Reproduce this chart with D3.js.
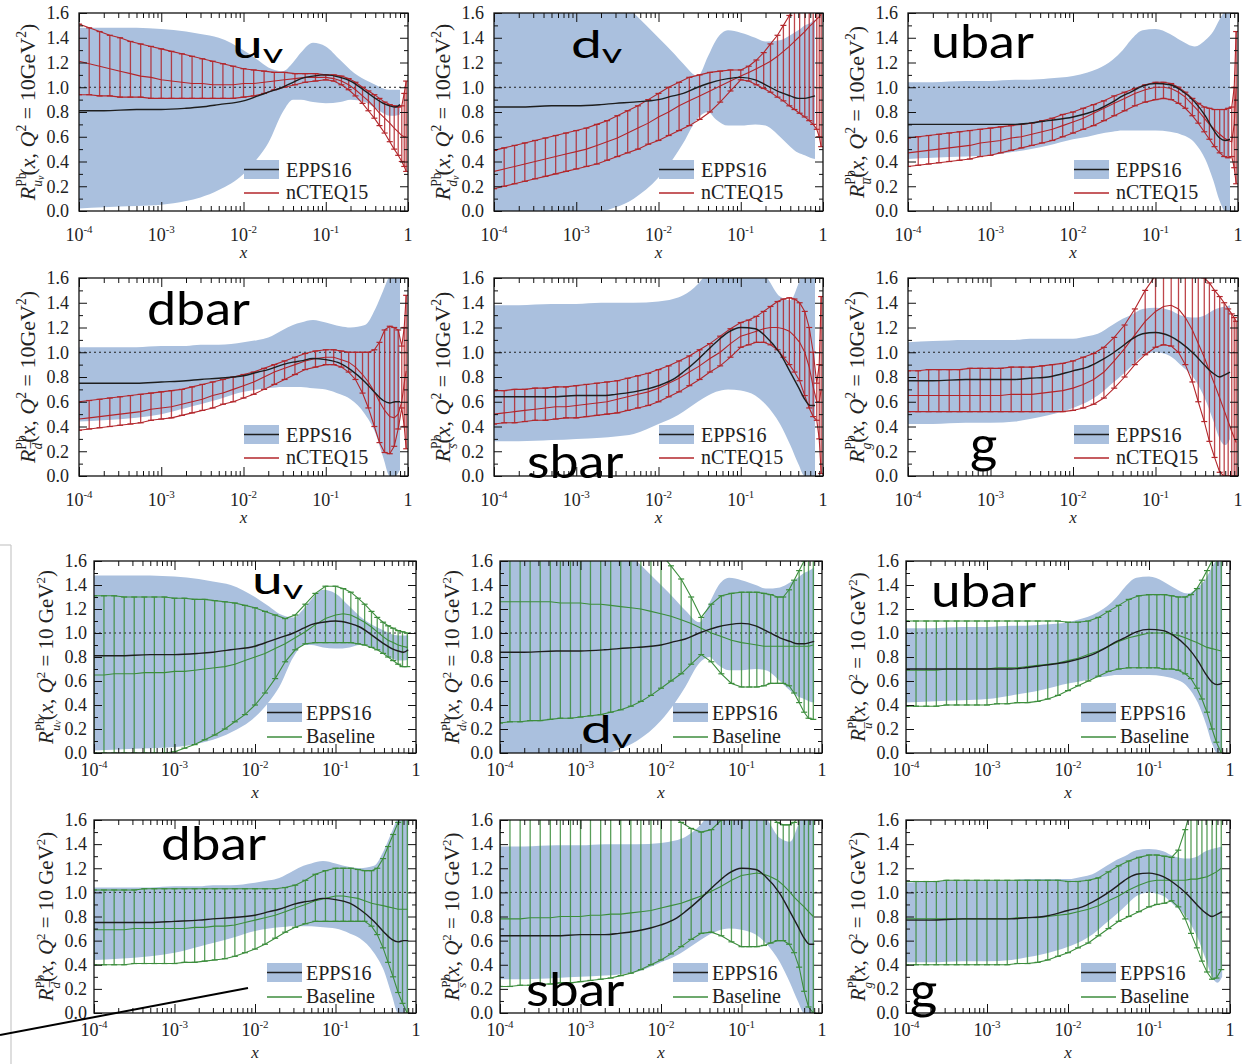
<!DOCTYPE html>
<html><head><meta charset="utf-8">
<script src="https://cdn.jsdelivr.net/npm/d3@7"></script>
<style>body{margin:0;background:#fff}svg{display:block}</style>
</head><body>
<svg id="c" width="1245" height="1064"></svg>
<script>
// ---------- x grids ----------
const xEPPS = [1e-4,2e-4,5e-4,1e-3,2e-3,3e-3,5e-3,0.01,0.015,0.02,0.03,0.04,0.05,0.07,0.1,0.15,0.2,0.3,0.4,0.5,0.6,0.7,0.8];
const xTop = [1e-4,1.33e-4,1.78e-4,2.37e-4,3.16e-4,4.22e-4,5.62e-4,7.5e-4,
  1e-3,1.33e-3,1.78e-3,2.37e-3,3.16e-3,4.22e-3,5.62e-3,7.5e-3,
  0.01,0.0133,0.0178,0.0237,0.0316,0.0422,0.0562,0.075,
  0.1,0.125,0.155,0.19,0.23,0.28,0.33,0.39,0.45,0.52,0.6,0.68,0.76,0.84,0.9,0.95];
const xBot = [1e-4,1.33e-4,1.78e-4,2.37e-4,3.16e-4,4.22e-4,5.62e-4,7.5e-4,
  1e-3,1.33e-3,1.78e-3,2.37e-3,3.16e-3,4.22e-3,5.62e-3,7.5e-3,
  0.01,0.0133,0.0178,0.0237,0.0316,0.0422,0.0562,0.075,
  0.1,0.125,0.155,0.19,0.23,0.28,0.33,0.39,0.45,0.52,0.6,0.68,0.78];
const yMajorTicks = [0,0.2,0.4,0.6,0.8,1.0,1.2,1.4,1.6];
const xMajorTicks = [1e-4,1e-3,1e-2,1e-1,1];
const xTickExp = ["-4","-3","-2","-1",""];

// ---------- EPPS16 (band + central) ----------
const uvEppsUp = [1.48,1.48,1.48,1.47,1.45,1.43,1.4,1.3,1.22,1.16,1.13,1.2,1.28,1.36,1.33,1.22,1.14,1.06,1.02,0.99,0.98,0.98,0.98];
const uvEppsLo = [0.02,0.03,0.04,0.05,0.08,0.11,0.17,0.3,0.43,0.55,0.8,0.9,0.9,0.88,0.87,0.88,0.9,0.88,0.83,0.79,0.77,0.77,0.78];
const uvEppsC  = [0.81,0.81,0.82,0.82,0.83,0.84,0.86,0.89,0.93,0.96,1.0,1.04,1.07,1.09,1.1,1.08,1.05,0.97,0.91,0.87,0.85,0.84,0.86];
const dvEppsUp = [2,2,2,2,1.9,1.75,1.6,1.4,1.28,1.19,1.09,1.25,1.38,1.46,1.44,1.4,1.37,1.38,1.42,1.46,1.5,1.52,1.55];
const dvEppsLo = [0,0,0,0,0,0.03,0.1,0.27,0.42,0.55,0.75,0.8,0.74,0.69,0.69,0.7,0.69,0.6,0.52,0.47,0.45,0.43,0.42];
const dvEppsC  = [0.84,0.84,0.85,0.85,0.86,0.87,0.88,0.9,0.93,0.95,1.0,1.03,1.05,1.07,1.08,1.06,1.02,0.96,0.93,0.91,0.91,0.92,0.93];
const ubEppsUp = [1.04,1.04,1.05,1.05,1.06,1.06,1.07,1.09,1.12,1.15,1.22,1.3,1.38,1.46,1.47,1.43,1.38,1.33,1.38,1.45,1.55,1.62,1.65];
const ubEppsLo = [0.42,0.43,0.44,0.45,0.48,0.5,0.53,0.58,0.6,0.62,0.64,0.65,0.65,0.65,0.65,0.64,0.62,0.55,0.42,0.25,0.08,0,0];
const ubEppsC  = [0.7,0.7,0.7,0.7,0.7,0.71,0.73,0.76,0.79,0.82,0.88,0.93,0.96,1.01,1.03,1.02,0.98,0.88,0.77,0.66,0.59,0.57,0.58];
const dbEppsUp = [1.04,1.04,1.04,1.05,1.05,1.06,1.06,1.08,1.1,1.12,1.18,1.22,1.24,1.26,1.24,1.21,1.2,1.22,1.35,1.5,1.62,1.66,1.66];
const dbEppsLo = [0.44,0.45,0.47,0.5,0.55,0.58,0.62,0.68,0.7,0.71,0.72,0.72,0.72,0.71,0.7,0.66,0.62,0.5,0.35,0.15,0,0,0.05];
const dbEppsC  = [0.75,0.75,0.75,0.76,0.77,0.78,0.79,0.81,0.84,0.86,0.9,0.92,0.93,0.95,0.94,0.91,0.86,0.76,0.67,0.61,0.59,0.6,0.6];
const sbEppsUp = [1.38,1.38,1.39,1.39,1.4,1.4,1.4,1.41,1.43,1.46,1.55,1.65,1.7,1.75,1.75,1.7,1.62,1.45,1.42,1.55,1.7,1.75,1.75];
const sbEppsLo = [0.28,0.28,0.29,0.3,0.31,0.32,0.34,0.42,0.47,0.52,0.6,0.65,0.68,0.7,0.69,0.65,0.58,0.42,0.25,0.1,0,0,0];
const sbEppsC  = [0.64,0.64,0.64,0.65,0.65,0.66,0.68,0.73,0.78,0.84,0.94,1.02,1.08,1.16,1.2,1.19,1.13,0.99,0.84,0.72,0.62,0.57,0.57];
const gEppsUp  = [1.08,1.09,1.1,1.1,1.1,1.11,1.11,1.11,1.13,1.15,1.22,1.27,1.3,1.35,1.36,1.34,1.3,1.28,1.3,1.34,1.36,1.37,1.38];
const gEppsLo  = [0.42,0.42,0.43,0.43,0.44,0.46,0.49,0.55,0.6,0.65,0.75,0.82,0.88,0.97,1.0,0.97,0.9,0.78,0.62,0.45,0.3,0.25,0.3];
const gEppsC   = [0.77,0.77,0.78,0.78,0.78,0.79,0.8,0.85,0.88,0.92,0.99,1.05,1.1,1.15,1.16,1.13,1.08,0.98,0.89,0.83,0.8,0.82,0.84];

// ---------- nCTEQ15 (upper, central, lower) ----------
const uvNcUp = [1.51,1.48,1.45,1.42,1.40,1.37,1.35,1.33,1.31,1.29,1.27,1.25,1.23,1.21,1.19,1.17,1.15,1.14,1.13,1.12,1.12,1.11,1.11,1.11,1.1,
  1.1,1.09,1.07,1.04,1.0,0.97,0.94,0.91,0.88,0.86,0.85,0.84,0.85,0.95,1.05];
const uvNcC = [1.21,1.19,1.17,1.15,1.13,1.11,1.09,1.08,1.06,1.05,1.04,1.03,1.03,1.02,1.02,1.02,1.03,1.03,1.04,1.05,1.06,1.07,1.08,1.08,1.08,
  1.07,1.05,1.02,0.98,0.93,0.89,0.84,0.79,0.75,0.71,0.67,0.64,0.61,0.6,0.6];
const uvNcLo = [0.94,0.94,0.93,0.93,0.92,0.92,0.92,0.91,0.91,0.91,0.91,0.91,0.91,0.91,0.91,0.91,0.92,0.93,0.95,0.98,1.0,1.02,1.04,1.05,1.06,
  1.05,1.02,0.98,0.93,0.87,0.81,0.75,0.69,0.63,0.56,0.5,0.45,0.4,0.36,0.32];
const dvNcUp = [0.49,0.51,0.53,0.55,0.57,0.59,0.61,0.63,0.65,0.67,0.7,0.73,0.77,0.81,0.85,0.9,0.95,1.0,1.04,1.08,1.1,1.12,1.13,1.14,1.14,
  1.17,1.22,1.28,1.35,1.42,1.5,1.58,1.66,1.74,1.82,1.9,1.98,2.05,2.1,2.15];
const dvNcC = [0.32,0.34,0.36,0.38,0.4,0.42,0.44,0.46,0.48,0.5,0.53,0.56,0.59,0.63,0.67,0.71,0.76,0.8,0.85,0.89,0.93,0.97,1.01,1.05,1.09,
  1.12,1.15,1.18,1.21,1.25,1.29,1.33,1.37,1.41,1.45,1.49,1.52,1.55,1.57,1.59];
const dvNcLo = [0.18,0.2,0.22,0.24,0.26,0.28,0.3,0.32,0.34,0.36,0.38,0.41,0.44,0.47,0.5,0.54,0.57,0.61,0.65,0.69,0.74,0.8,0.88,0.97,1.06,
  1.05,1.02,0.99,0.96,0.92,0.89,0.85,0.82,0.79,0.76,0.73,0.7,0.66,0.6,0.52];
const ubNcUp = [0.59,0.6,0.61,0.62,0.63,0.64,0.65,0.66,0.67,0.68,0.69,0.7,0.71,0.73,0.75,0.78,0.8,0.83,0.86,0.89,0.93,0.96,0.99,1.02,1.04,
  1.04,1.03,1.0,0.96,0.91,0.87,0.84,0.83,0.82,0.82,0.82,0.83,0.84,1.0,1.45];
const ubNcC = [0.47,0.48,0.49,0.5,0.51,0.52,0.53,0.55,0.56,0.57,0.59,0.6,0.62,0.64,0.66,0.69,0.72,0.75,0.79,0.83,0.87,0.91,0.95,0.98,1.0,
  1.0,0.99,0.96,0.92,0.86,0.81,0.75,0.7,0.66,0.62,0.59,0.57,0.56,0.7,1.0];
const ubNcLo = [0.36,0.37,0.38,0.39,0.4,0.41,0.42,0.44,0.45,0.47,0.49,0.51,0.53,0.55,0.57,0.6,0.63,0.66,0.69,0.73,0.77,0.81,0.85,0.88,0.9,
  0.91,0.9,0.87,0.83,0.77,0.71,0.64,0.58,0.52,0.47,0.44,0.43,0.44,0.35,0.22];
const dbNcUp = [0.6,0.61,0.62,0.63,0.64,0.65,0.66,0.67,0.68,0.69,0.7,0.72,0.74,0.76,0.78,0.8,0.82,0.84,0.87,0.9,0.93,0.96,0.99,1.01,1.02,
  1.02,1.01,1.0,1.0,1.0,1.0,1.02,1.08,1.18,1.21,1.2,1.18,1.05,1.2,1.46];
const dbNcC = [0.46,0.47,0.48,0.49,0.5,0.51,0.52,0.54,0.55,0.56,0.58,0.6,0.62,0.65,0.67,0.7,0.73,0.76,0.8,0.84,0.87,0.9,0.93,0.95,0.96,
  0.96,0.94,0.92,0.88,0.82,0.76,0.68,0.6,0.53,0.48,0.47,0.5,0.6,0.75,0.85];
const dbNcLo = [0.37,0.38,0.39,0.4,0.41,0.42,0.43,0.45,0.46,0.47,0.49,0.51,0.53,0.55,0.58,0.6,0.63,0.66,0.7,0.74,0.78,0.82,0.86,0.88,0.9,
  0.9,0.88,0.84,0.78,0.67,0.55,0.4,0.27,0.19,0.18,0.24,0.38,0.55,0.4,0.22];
const sbNcUp = [0.69,0.69,0.7,0.7,0.71,0.71,0.72,0.72,0.73,0.74,0.75,0.76,0.77,0.79,0.81,0.83,0.86,0.89,0.93,0.97,1.02,1.07,1.13,1.19,1.24,
  1.26,1.29,1.33,1.37,1.41,1.43,1.44,1.43,1.4,1.33,1.2,1.0,0.75,0.9,1.45];
const sbNcC = [0.5,0.51,0.52,0.53,0.54,0.55,0.56,0.56,0.57,0.58,0.59,0.6,0.62,0.64,0.66,0.68,0.71,0.75,0.79,0.84,0.89,0.95,1.0,1.07,1.13,
  1.15,1.17,1.19,1.2,1.2,1.19,1.17,1.13,1.08,1.0,0.88,0.72,0.6,0.6,0.7];
const sbNcLo = [0.42,0.43,0.43,0.44,0.45,0.45,0.46,0.47,0.47,0.48,0.49,0.5,0.51,0.53,0.55,0.57,0.6,0.64,0.68,0.73,0.78,0.84,0.89,0.96,1.04,
  1.06,1.08,1.08,1.06,1.02,0.96,0.9,0.84,0.77,0.65,0.55,0.48,0.45,0.3,0.02];
const gNcUp = [0.85,0.85,0.86,0.86,0.86,0.86,0.87,0.87,0.87,0.87,0.88,0.88,0.88,0.89,0.9,0.91,0.93,0.96,0.99,1.04,1.12,1.22,1.35,1.5,1.62,
  1.68,1.7,1.7,1.68,1.65,1.62,1.6,1.56,1.5,1.45,1.4,1.35,1.31,1.28,1.25];
const gNcC = [0.65,0.65,0.65,0.65,0.65,0.65,0.65,0.65,0.65,0.65,0.66,0.66,0.66,0.67,0.68,0.69,0.71,0.74,0.78,0.84,0.93,1.03,1.14,1.25,1.33,
  1.37,1.38,1.35,1.28,1.18,1.07,0.96,0.85,0.74,0.63,0.53,0.44,0.36,0.31,0.27];
const gNcLo = [0.52,0.52,0.52,0.52,0.52,0.52,0.52,0.52,0.52,0.52,0.52,0.52,0.52,0.52,0.52,0.52,0.53,0.55,0.58,0.63,0.71,0.8,0.9,0.98,1.04,
  1.06,1.05,1.0,0.9,0.76,0.6,0.44,0.28,0.15,0.03,0,0,0,0,0];

// ---------- Baseline (upper, central, lower) ----------
const uvBsUp = [1.31,1.31,1.31,1.3,1.3,1.3,1.3,1.3,1.29,1.29,1.28,1.28,1.27,1.26,1.25,1.23,1.21,1.18,1.15,1.12,1.15,1.24,1.33,1.39,1.39,
  1.37,1.34,1.29,1.24,1.18,1.13,1.09,1.06,1.04,1.02,1.01,1.0];
const uvBsC = [0.65,0.65,0.66,0.66,0.66,0.67,0.67,0.67,0.68,0.68,0.69,0.7,0.71,0.72,0.74,0.77,0.8,0.83,0.87,0.91,0.96,1.01,1.07,1.12,1.15,
  1.16,1.15,1.12,1.09,1.05,1.01,0.97,0.94,0.92,0.9,0.89,0.88];
const uvBsLo = [0,0,0,0,0,0,0,0,0.01,0.04,0.07,0.11,0.15,0.2,0.26,0.32,0.4,0.5,0.62,0.76,0.86,0.91,0.92,0.92,0.92,
  0.92,0.92,0.91,0.9,0.88,0.86,0.83,0.8,0.77,0.74,0.72,0.72];
const dvBsUp = [2,2,2,2,2,2,2,2,2,2,2,2,2,1.95,1.88,1.78,1.66,1.56,1.45,1.3,1.13,1.24,1.31,1.33,1.34,
  1.34,1.34,1.33,1.32,1.3,1.3,1.36,1.44,1.52,1.6,1.66,1.72];
const dvBsC = [1.26,1.26,1.26,1.26,1.26,1.26,1.25,1.25,1.25,1.24,1.24,1.23,1.22,1.21,1.2,1.18,1.16,1.14,1.11,1.08,1.04,1.0,0.97,0.94,0.92,
  0.91,0.9,0.89,0.89,0.89,0.89,0.89,0.89,0.89,0.89,0.89,0.9];
const dvBsLo = [0.25,0.26,0.26,0.27,0.27,0.28,0.29,0.29,0.3,0.31,0.32,0.34,0.36,0.39,0.43,0.48,0.54,0.6,0.66,0.74,0.82,0.76,0.66,0.58,0.55,
  0.55,0.55,0.56,0.58,0.58,0.58,0.56,0.5,0.42,0.34,0.29,0.28];
const ubBsUp = [1.1,1.1,1.1,1.1,1.1,1.1,1.1,1.1,1.1,1.1,1.1,1.1,1.1,1.1,1.1,1.1,1.09,1.09,1.1,1.13,1.18,1.23,1.28,1.31,1.32,
  1.32,1.32,1.31,1.3,1.3,1.32,1.37,1.44,1.52,1.6,1.68,1.76];
const ubBsC = [0.69,0.69,0.69,0.69,0.7,0.7,0.7,0.7,0.7,0.71,0.71,0.71,0.72,0.73,0.74,0.75,0.77,0.79,0.82,0.85,0.89,0.93,0.96,0.98,1.0,
  1.0,1.0,0.99,0.98,0.96,0.94,0.92,0.9,0.88,0.87,0.86,0.85];
const ubBsLo = [0.39,0.39,0.39,0.39,0.4,0.4,0.4,0.4,0.4,0.41,0.41,0.42,0.42,0.43,0.45,0.48,0.52,0.56,0.6,0.64,0.68,0.7,0.71,0.71,0.71,
  0.71,0.7,0.7,0.69,0.66,0.62,0.54,0.45,0.34,0.2,0.09,0.0];
const dbBsUp = [1.02,1.02,1.02,1.02,1.02,1.03,1.03,1.03,1.03,1.03,1.03,1.03,1.03,1.03,1.03,1.03,1.03,1.03,1.03,1.04,1.06,1.1,1.15,1.18,1.2,
  1.2,1.2,1.19,1.18,1.18,1.2,1.28,1.38,1.48,1.58,1.66,1.76];
const dbBsC = [0.69,0.69,0.69,0.69,0.7,0.7,0.7,0.7,0.7,0.7,0.71,0.71,0.72,0.72,0.73,0.75,0.77,0.79,0.81,0.84,0.87,0.9,0.93,0.95,0.97,
  0.97,0.96,0.95,0.93,0.91,0.9,0.89,0.88,0.87,0.86,0.86,0.86];
const dbBsLo = [0.4,0.4,0.4,0.4,0.41,0.41,0.41,0.41,0.41,0.42,0.42,0.43,0.44,0.45,0.47,0.5,0.53,0.57,0.62,0.67,0.71,0.74,0.76,0.76,0.76,
  0.76,0.76,0.76,0.76,0.72,0.65,0.54,0.42,0.3,0.17,0.08,0.0];
const sbBsUp = [2,2,2,2,2,2,2,2,2,2,2,2,2,2,1.9,1.8,1.72,1.65,1.58,1.53,1.5,1.52,1.6,1.7,1.75,
  1.75,1.72,1.68,1.63,1.58,1.56,1.56,1.58,1.63,1.7,1.8,1.9];
const sbBsC = [0.78,0.78,0.78,0.79,0.79,0.79,0.8,0.8,0.8,0.81,0.81,0.82,0.82,0.83,0.84,0.85,0.87,0.89,0.91,0.94,0.97,1.01,1.05,1.1,1.14,
  1.15,1.16,1.15,1.13,1.1,1.06,1.01,0.96,0.92,0.88,0.84,0.8];
const sbBsLo = [0.22,0.22,0.23,0.23,0.24,0.24,0.25,0.25,0.26,0.27,0.28,0.29,0.31,0.33,0.36,0.4,0.44,0.49,0.55,0.61,0.66,0.67,0.64,0.59,0.55,
  0.55,0.55,0.56,0.58,0.6,0.6,0.57,0.5,0.38,0.18,0.05,0.0];
const gBsUp = [1.09,1.09,1.09,1.09,1.1,1.1,1.1,1.1,1.1,1.1,1.1,1.1,1.1,1.1,1.1,1.1,1.09,1.09,1.1,1.12,1.17,1.22,1.26,1.29,1.31,
  1.31,1.3,1.29,1.35,1.52,1.7,1.85,1.95,2,2,2,2];
const gBsC = [0.78,0.78,0.78,0.78,0.78,0.78,0.78,0.78,0.78,0.78,0.78,0.79,0.79,0.79,0.8,0.81,0.82,0.84,0.86,0.89,0.93,0.97,1.02,1.06,1.09,
  1.1,1.1,1.1,1.1,1.1,1.11,1.11,1.12,1.13,1.15,1.17,1.2];
const gBsLo = [0.4,0.4,0.4,0.4,0.4,0.4,0.4,0.4,0.4,0.4,0.4,0.41,0.41,0.42,0.44,0.47,0.5,0.54,0.58,0.64,0.7,0.76,0.8,0.84,0.88,
  0.9,0.91,0.93,0.88,0.78,0.66,0.54,0.43,0.34,0.28,0.29,0.36];

// ---------- styling / layout ----------
const BAND = "#aac0de", RED = "#b3262b", GREEN = "#3c8d3c";
const ROWS = [
  {top:13,  bottom:211,  tl:30, xl:47, yo:44, yfs:22, ytl:10, gev:"10GeV", half:0},
  {top:278, bottom:476,  tl:30, xl:47, yo:44, yfs:22, ytl:10, gev:"10GeV", half:0},
  {top:561, bottom:753,  tl:23, xl:45, yo:41, yfs:21, ytl:7,  gev:"10 GeV", half:1},
  {top:820, bottom:1013, tl:23, xl:45, yo:41, yfs:21, ytl:7,  gev:"10 GeV", half:1}
];
const COLS = [[[79,408],[494,823],[908,1238]], [[94,416],[500,822],[906,1230]]];
const SUBS = {uv:["u","v"], dv:["d","v"], ub:["u\u0305",""], db:["d\u0305",""], sb:["s\u0305",""], g:["g",""]};

const panels = [
  {r:0,c:0,f:"uv",e:[uvEppsUp,uvEppsC,uvEppsLo],s:[uvNcUp,uvNcC,uvNcLo],xs:xTop,col:RED,leg:"nCTEQ15",lab:{t:"u",sub:"v",x:232,y:58,fs:38,sx:1.45}},
  {r:0,c:1,f:"dv",e:[dvEppsUp,dvEppsC,dvEppsLo],s:[dvNcUp,dvNcC,dvNcLo],xs:xTop,col:RED,leg:"nCTEQ15",lab:{t:"d",sub:"v",x:571,y:58,fs:38,sx:1.45}},
  {r:0,c:2,f:"ub",e:[ubEppsUp,ubEppsC,ubEppsLo],s:[ubNcUp,ubNcC,ubNcLo],xs:xTop,col:RED,leg:"nCTEQ15",lab:{t:"ubar",sub:"",x:931,y:58,fs:46,sx:1.13}},
  {r:1,c:0,f:"db",e:[dbEppsUp,dbEppsC,dbEppsLo],s:[dbNcUp,dbNcC,dbNcLo],xs:xTop,col:RED,leg:"nCTEQ15",lab:{t:"dbar",sub:"",x:147,y:325,fs:46,sx:1.13}},
  {r:1,c:1,f:"sb",e:[sbEppsUp,sbEppsC,sbEppsLo],s:[sbNcUp,sbNcC,sbNcLo],xs:xTop,col:RED,leg:"nCTEQ15",lab:{t:"sbar",sub:"",x:527,y:478,fs:46,sx:1.13}},
  {r:1,c:2,f:"g", e:[gEppsUp,gEppsC,gEppsLo],  s:[gNcUp,gNcC,gNcLo],   xs:xTop,col:RED,leg:"nCTEQ15",lab:{t:"g",sub:"",x:970,y:462,fs:50,sx:1.05}},
  {r:2,c:0,f:"uv",e:[uvEppsUp,uvEppsC,uvEppsLo],s:[uvBsUp,uvBsC,uvBsLo],xs:xBot,col:GREEN,leg:"Baseline",lab:{t:"u",sub:"v",x:252,y:594,fs:38,sx:1.45}},
  {r:2,c:1,f:"dv",e:[dvEppsUp,dvEppsC,dvEppsLo],s:[dvBsUp,dvBsC,dvBsLo],xs:xBot,col:GREEN,leg:"Baseline",lab:{t:"d",sub:"v",x:581,y:743,fs:38,sx:1.45}},
  {r:2,c:2,f:"ub",e:[ubEppsUp,ubEppsC,ubEppsLo],s:[ubBsUp,ubBsC,ubBsLo],xs:xBot,col:GREEN,leg:"Baseline",lab:{t:"ubar",sub:"",x:931,y:607,fs:47,sx:1.13}},
  {r:3,c:0,f:"db",e:[dbEppsUp,dbEppsC,dbEppsLo],s:[dbBsUp,dbBsC,dbBsLo],xs:xBot,col:GREEN,leg:"Baseline",lab:{t:"dbar",sub:"",x:161,y:860,fs:47,sx:1.13}},
  {r:3,c:1,f:"sb",e:[sbEppsUp,sbEppsC,sbEppsLo],s:[sbBsUp,sbBsC,sbBsLo],xs:xBot,col:GREEN,leg:"Baseline",lab:{t:"sbar",sub:"",x:526,y:1006,fs:47,sx:1.13}},
  {r:3,c:2,f:"g", e:[gEppsUp,gEppsC,gEppsLo],  s:[gBsUp,gBsC,gBsLo],   xs:xBot,col:GREEN,leg:"Baseline",lab:{t:"g",sub:"",x:910,y:1008,fs:50,sx:1.05}}
];

const svg = d3.select("#c");
const SERIF = "'Liberation Serif','Times New Roman',serif";

// decorative lines of the composite figure
svg.append("line").attr("x1",11).attr("y1",545).attr("x2",11).attr("y2",1064).attr("stroke","#c8c8c8").attr("stroke-width",1.2);
svg.append("line").attr("x1",0).attr("y1",545).attr("x2",11).attr("y2",545).attr("stroke","#c8c8c8").attr("stroke-width",1.2);

panels.forEach((p, k) => {
  const G = ROWS[p.r];
  const [L, R] = COLS[G.half][p.c];
  const T = G.top, B = G.bottom;
  const x = d3.scaleLog().domain([1e-4, 1]).range([L, R]);
  const y = d3.scaleLinear().domain([0, 1.6]).range([B, T]);

  const cid = "clip" + k;
  svg.append("clipPath").attr("id", cid).append("rect")
    .attr("x", L).attr("y", T).attr("width", R - L).attr("height", B - T);
  const g = svg.append("g").attr("clip-path", `url(#${cid})`);

  // EPPS16 band
  const idxE = d3.range(xEPPS.length);
  g.append("path").datum(idxE)
    .attr("d", d3.area().x(i => x(xEPPS[i])).y0(i => y(p.e[2][i])).y1(i => y(p.e[0][i])).curve(d3.curveMonotoneX))
    .attr("fill", BAND).attr("stroke", "none");

  // dotted line at 1
  g.append("line").attr("x1", L).attr("x2", R).attr("y1", y(1)).attr("y2", y(1))
    .attr("stroke", "#222").attr("stroke-width", 1).attr("stroke-dasharray", "2,3");

  // error bars
  const idx = d3.range(p.xs.length);
  const [sU, sC, sL] = p.s;
  const bars = g.append("g").attr("stroke", p.col);
  bars.selectAll(".v").data(idx).enter().append("line")
    .attr("x1", i => x(p.xs[i])).attr("x2", i => x(p.xs[i]))
    .attr("y1", i => y(sL[i])).attr("y2", i => y(sU[i]))
    .attr("stroke-width", 1.3).attr("stroke-opacity", 0.85);
  [sU, sL].forEach(arr => {
    bars.selectAll(null).data(idx).enter().append("line")
      .attr("x1", i => x(p.xs[i]) - 3).attr("x2", i => x(p.xs[i]) + 3)
      .attr("y1", i => y(arr[i])).attr("y2", i => y(arr[i]))
      .attr("stroke-width", 1.2);
  });
  [sU, sC, sL].forEach(arr => {
    g.append("path").datum(idx)
      .attr("d", d3.line().x(i => x(p.xs[i])).y(i => y(arr[i])))
      .attr("fill", "none").attr("stroke", p.col).attr("stroke-width", 1.1);
  });

  // EPPS16 central
  g.append("path").datum(idxE)
    .attr("d", d3.line().x(i => x(xEPPS[i])).y(i => y(p.e[1][i])).curve(d3.curveMonotoneX))
    .attr("fill", "none").attr("stroke", "#1e1e1e").attr("stroke-width", 1.4);

  // axes (ticks inward)
  const ax = svg.append("g").attr("stroke-width", 1);
  const xMinor = x.ticks().filter(v => !xMajorTicks.some(m => Math.abs(m - v) / m < 1e-6));
  const yMinor = d3.range(1, 16, 2).map(v => v / 10);
  function styleAxis(sel) { sel.select(".domain").remove(); sel.selectAll("text").remove(); sel.selectAll("line").attr("stroke", "#111"); }
  ax.append("g").attr("transform", `translate(0,${B})`).call(d3.axisBottom(x).tickValues(xMajorTicks).tickSize(-9).tickFormat("")).call(styleAxis);
  ax.append("g").attr("transform", `translate(0,${B})`).call(d3.axisBottom(x).tickValues(xMinor).tickSize(-5).tickFormat("")).call(styleAxis);
  ax.append("g").attr("transform", `translate(0,${T})`).call(d3.axisTop(x).tickValues(xMajorTicks).tickSize(-9).tickFormat("")).call(styleAxis);
  ax.append("g").attr("transform", `translate(0,${T})`).call(d3.axisTop(x).tickValues(xMinor).tickSize(-5).tickFormat("")).call(styleAxis);
  ax.append("g").attr("transform", `translate(${L},0)`).call(d3.axisLeft(y).tickValues(yMajorTicks).tickSize(-8).tickFormat("")).call(styleAxis);
  ax.append("g").attr("transform", `translate(${L},0)`).call(d3.axisLeft(y).tickValues(yMinor).tickSize(-4).tickFormat("")).call(styleAxis);
  ax.append("g").attr("transform", `translate(${R},0)`).call(d3.axisRight(y).tickValues(yMajorTicks).tickSize(-8).tickFormat("")).call(styleAxis);
  ax.append("g").attr("transform", `translate(${R},0)`).call(d3.axisRight(y).tickValues(yMinor).tickSize(-4).tickFormat("")).call(styleAxis);
  svg.append("rect").attr("x", L).attr("y", T).attr("width", R - L).attr("height", B - T)
    .attr("fill", "none").attr("stroke", "#111").attr("stroke-width", 1.3);

  // y tick labels
  svg.append("g").selectAll("text").data(yMajorTicks).enter().append("text")
    .attr("x", L - G.ytl).attr("y", d => y(d)).attr("dy", "0.35em")
    .attr("text-anchor", "end").style("font-family", SERIF).style("font-size", "18px").attr("fill", "#222")
    .text(d => d.toFixed(1));

  // x tick labels
  xMajorTicks.forEach((v, j) => {
    const t = svg.append("text").attr("x", x(v)).attr("y", B + G.tl).attr("text-anchor", "middle")
      .style("font-family", SERIF).style("font-size", "18px").attr("fill", "#222");
    if (xTickExp[j] === "") { t.text("1"); }
    else {
      t.append("tspan").text("10");
      t.append("tspan").attr("dy", -8).style("font-size", "11px").text(xTickExp[j]);
    }
  });
  svg.append("text").attr("x", (L + R) / 2).attr("y", B + G.xl).attr("text-anchor", "middle")
    .style("font-family", SERIF).style("font-size", "17px").style("font-style", "italic").attr("fill", "#222").text("x");

  // y axis label
  const fs = G.yfs;
  const yl = svg.append("text").attr("transform", `translate(${L - G.yo},${(T + B) / 2}) rotate(-90)`)
    .attr("text-anchor", "middle").style("font-family", SERIF).style("font-size", fs + "px").attr("fill", "#222");
  yl.append("tspan").style("font-style", "italic").text("R");
  yl.append("tspan").attr("dy", -0.42 * fs).style("font-size", (0.62 * fs) + "px").text("Pb");
  const sb = SUBS[p.f];
  yl.append("tspan").attr("dx", -0.62 * fs * 1.05).attr("dy", 0.74 * fs).style("font-size", (0.62 * fs) + "px").style("font-style", "italic").text(sb[0]);
  if (sb[1]) yl.append("tspan").attr("dy", 0.08 * fs).style("font-size", (0.45 * fs) + "px").style("font-style", "italic").text(sb[1]);
  yl.append("tspan").attr("dy", sb[1] ? -0.40 * fs : -0.32 * fs).text("(");
  yl.append("tspan").style("font-style", "italic").text("x");
  yl.append("tspan").text(", ");
  yl.append("tspan").style("font-style", "italic").text("Q");
  yl.append("tspan").attr("dy", -0.4 * fs).style("font-size", (0.62 * fs) + "px").text("2");
  yl.append("tspan").attr("dy", 0.4 * fs).text(" = " + G.gev);
  yl.append("tspan").attr("dy", -0.4 * fs).style("font-size", (0.62 * fs) + "px").text("2");
  yl.append("tspan").attr("dy", 0.4 * fs).text(")");

  // legend
  const top = G.half === 0;
  const rx = R - (top ? 164 : 149), ry = B - (top ? 51 : 50), tx = R - (top ? 122 : 110);
  const l1 = ry + 9.5, l2 = B - (top ? 18 : 16);
  svg.append("rect").attr("x", rx).attr("y", ry).attr("width", 35).attr("height", 19).attr("fill", BAND);
  svg.append("line").attr("x1", rx).attr("x2", rx + 35).attr("y1", l1).attr("y2", l1).attr("stroke", "#1e1e1e").attr("stroke-width", 1.6);
  svg.append("line").attr("x1", rx).attr("x2", rx + 35).attr("y1", l2).attr("y2", l2).attr("stroke", p.col).attr("stroke-width", 1.4);
  svg.append("text").attr("x", tx).attr("y", B - (top ? 34 : 33)).style("font-family", SERIF).style("font-size", "20px").attr("fill", "#222").text("EPPS16");
  svg.append("text").attr("x", tx).attr("y", B - (top ? 12 : 10)).style("font-family", SERIF).style("font-size", "20px").attr("fill", "#222").text(p.leg);

  // big flavour label
  const lb = p.lab;
  const bt = svg.append("text").attr("transform", `translate(${lb.x},${lb.y}) scale(${lb.sx},1)`)
    .style("font-family", "Lato, 'Open Sans', sans-serif").style("font-size", lb.fs + "px").attr("fill", "#000").text(lb.t);
  if (lb.sub) bt.append("tspan").attr("dy", 5).style("font-size", (lb.fs * 0.72) + "px").text(lb.sub);
});

// stray black line over the lower-left panel
svg.append("line").attr("x1", 0).attr("y1", 1035).attr("x2", 248).attr("y2", 988).attr("stroke", "#000").attr("stroke-width", 2);
</script>
</body></html>
